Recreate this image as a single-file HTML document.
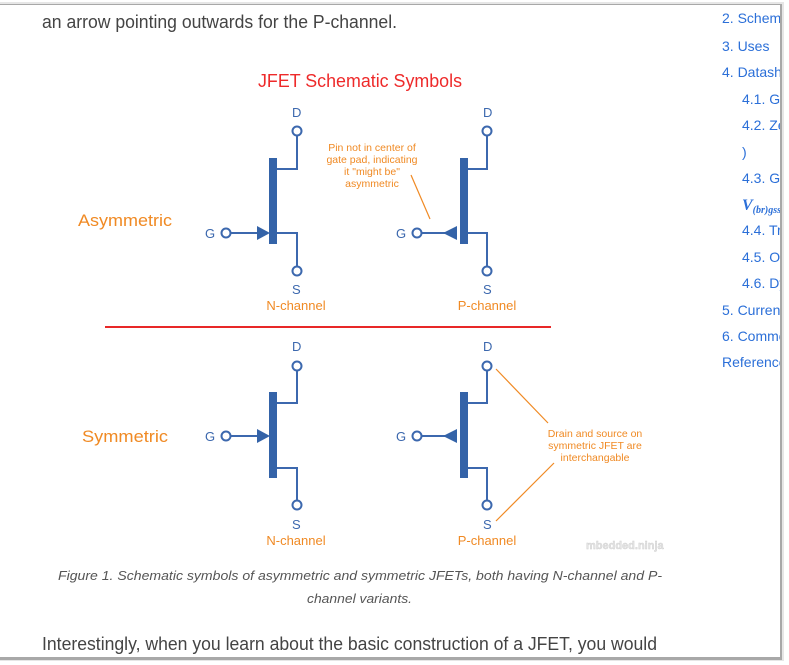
<!DOCTYPE html>
<html><head><meta charset="utf-8"><style>
html,body{margin:0;padding:0;background:#fff;width:789px;height:665px;overflow:hidden}
svg{display:block}
</style></head><body>
<svg width="789" height="665" viewBox="0 0 789 665" xmlns="http://www.w3.org/2000/svg" font-family="Liberation Sans, Arial, sans-serif">
<defs>
<clipPath id="pg"><rect x="0" y="5" width="780" height="652"/></clipPath>
</defs>
<!-- shadow -->
<rect x="0" y="0" width="789" height="665" fill="#fff"/>
<rect x="0" y="2" width="784" height="659" fill="#e6e6e6"/>
<rect x="0" y="4" width="782" height="656" fill="#a8a8a8"/>
<rect x="0" y="5" width="780" height="652" fill="#fff"/>
<g clip-path="url(#pg)">
<text x="42" y="28" font-size="18" fill="#444" textLength="355" lengthAdjust="spacingAndGlyphs">an arrow pointing outwards for the P-channel.</text>
<text x="258" y="87" font-size="18" fill="#ee2a2a" textLength="204" lengthAdjust="spacingAndGlyphs">JFET Schematic Symbols</text>

<g fill="#f08a24" font-size="17">
<text x="78" y="226" textLength="94" lengthAdjust="spacingAndGlyphs">Asymmetric</text>
<text x="82" y="442" textLength="86" lengthAdjust="spacingAndGlyphs">Symmetric</text>
</g>
<g fill="#f08a24" font-size="13" text-anchor="middle">
<text x="296" y="310">N-channel</text>
<text x="487" y="310">P-channel</text>
<text x="296" y="545">N-channel</text>
<text x="487" y="545">P-channel</text>
</g>
<g fill="#f08a24" font-size="10.5" text-anchor="middle">
<text x="372" y="151">Pin not in center of</text>
<text x="372" y="163">gate pad, indicating</text>
<text x="372" y="175">it "might be"</text>
<text x="372" y="187">asymmetric</text>
<text x="595" y="437">Drain and source on</text>
<text x="595" y="449">symmetric JFET are</text>
<text x="595" y="461">interchangable</text>
</g>
<g stroke="#f08a24" stroke-width="1.2">
<line x1="411" y1="175" x2="430" y2="219"/>
<line x1="496" y1="369" x2="548" y2="423"/>
<line x1="496" y1="521" x2="554" y2="463"/>
</g>
<line x1="105" y1="327" x2="551" y2="327" stroke="#e82828" stroke-width="2"/>

<g fill="#3c68ae" font-size="13">
<text x="292" y="117">D</text><text x="292" y="294">S</text>
<text x="483" y="117">D</text><text x="483" y="294">S</text>
<text x="205" y="238">G</text><text x="396" y="238">G</text>
<text x="292" y="351">D</text><text x="292" y="529">S</text>
<text x="483" y="351">D</text><text x="483" y="529">S</text>
<text x="205" y="441">G</text><text x="396" y="441">G</text>
</g>

<g stroke="#3c68ae" stroke-width="2" fill="none">
<!-- asym N -->
<path d="M276 169H297V135"/><path d="M276 233H297V267"/><path d="M231 233H260"/>
<!-- asym P -->
<path d="M467 169H487V135"/><path d="M467 233H487V267"/><path d="M422 233H445"/>
<!-- sym N -->
<path d="M276 403H297V370"/><path d="M276 468H297V501"/><path d="M231 436H260"/>
<!-- sym P -->
<path d="M467 403H487V370"/><path d="M467 468H487V501"/><path d="M422 436H445"/>
</g>
<g stroke="#3c68ae" stroke-width="2" fill="#fff">
<circle cx="297" cy="131" r="4.5"/><circle cx="297" cy="271" r="4.5"/><circle cx="226" cy="233" r="4.5"/>
<circle cx="487" cy="131" r="4.5"/><circle cx="487" cy="271" r="4.5"/><circle cx="417" cy="233" r="4.5"/>
<circle cx="297" cy="366" r="4.5"/><circle cx="297" cy="505" r="4.5"/><circle cx="226" cy="436" r="4.5"/>
<circle cx="487" cy="366" r="4.5"/><circle cx="487" cy="505" r="4.5"/><circle cx="417" cy="436" r="4.5"/>
</g>
<g fill="#3463a8">
<rect x="269" y="158" width="8" height="86"/>
<rect x="460" y="158" width="8" height="86"/>
<rect x="269" y="392" width="8" height="86"/>
<rect x="460" y="392" width="8" height="86"/>
<path d="M257 226L270 233L257 240Z"/>
<path d="M457 226L443 233L457 240Z"/>
<path d="M257 429L270 436L257 443Z"/>
<path d="M457 429L443 436L457 443Z"/>
</g>
<text x="586" y="549" font-size="11" font-weight="bold" fill="#e4e4e4" stroke="#cfcfcf" stroke-width="0.4">mbedded.ninja</text>

<g fill="#555" font-size="13" font-style="italic">
<text x="58" y="580" textLength="604" lengthAdjust="spacingAndGlyphs">Figure 1. Schematic symbols of asymmetric and symmetric JFETs, both having N-channel and P-</text>
<text x="307" y="603" textLength="105" lengthAdjust="spacingAndGlyphs">channel variants.</text>
</g>
<text x="42" y="650" font-size="18" fill="#444" textLength="615" lengthAdjust="spacingAndGlyphs">Interestingly, when you learn about the basic construction of a JFET, you would</text>

<g fill="#2b6fd8" font-size="14">
<text x="722" y="23">2. Schematic</text>
<text x="722" y="51">3. Uses</text>
<text x="722" y="77">4. Datasheet</text>
<text x="742" y="104">4.1. Gate</text>
<text x="742" y="130">4.2. Zero</text>
<text x="742" y="157">)</text>
<text x="742" y="183">4.3. Gate</text>
<text x="742" y="210" font-family="Liberation Serif, serif" font-style="italic" font-weight="bold" font-size="16">V<tspan font-size="10" dy="3">(br)gss</tspan></text>
<text x="742" y="235">4.4. Trans</text>
<text x="742" y="262">4.5. Other</text>
<text x="742" y="288">4.6. Dyn</text>
<text x="722" y="315">5. Current</text>
<text x="722" y="341">6. Common</text>
<text x="722" y="367">References</text>
</g>
</g>
</svg>
</body></html>
